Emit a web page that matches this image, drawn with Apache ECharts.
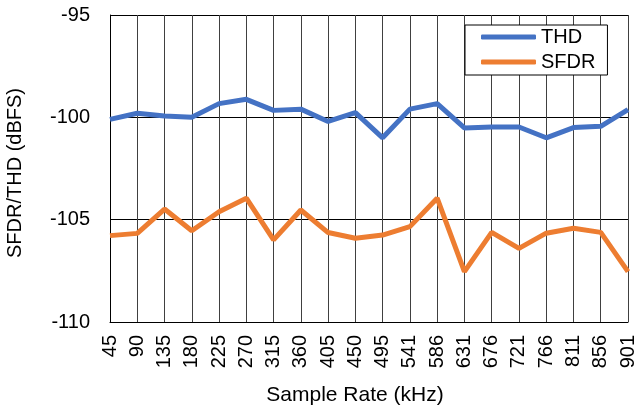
<!DOCTYPE html>
<html>
<head>
<meta charset="utf-8">
<script src="https://cdn.jsdelivr.net/npm/echarts@6/dist/echarts.min.js"></script>
<style>
  html, body { margin: 0; padding: 0; background: #fff; }
  #main { width: 638px; height: 411px; }
</style>
</head>
<body>
<div id="main"></div>
<script>
var sampleRates = ["45", "90", "135", "180", "225", "270", "315", "360", "405", "450",
    "495", "541", "586", "631", "676", "721", "766", "811", "856", "901"];
var thd = [-100.1, -99.8, -99.94, -100.0, -99.33, -99.12, -99.66, -99.6, -100.2, -99.77,
    -101.0, -99.6, -99.33, -100.52, -100.47, -100.47, -101.0, -100.5, -100.44, -99.62];
var sfdr = [-105.78, -105.67, -104.48, -105.54, -104.61, -103.95, -105.99, -104.53, -105.63, -105.91,
    -105.75, -105.34, -103.95, -107.54, -105.62, -106.4, -105.66, -105.42, -105.62, -107.54];

var myChart = echarts.init(document.getElementById("main"), null, { renderer: "canvas" });
var font = "Liberation Sans, Arial, sans-serif";

var option = {
    backgroundColor: "#fff",
    animation: false,
    textStyle: { fontFamily: font },
    grid: {
        left: 110,
        right: 10,
        top: 15,
        bottom: 89,
        outerBoundsMode: "none",
    },
    legend: {
        data: ["THD", "SFDR"],
        orient: "vertical",
        left: 465,
        top: 25,
        padding: [2, 12, 3, 16],
        itemGap: 5,
        itemWidth: 55,
        itemHeight: 5,
        icon: "roundRect",
        backgroundColor: "#fff",
        borderColor: "#000",
        borderWidth: 1,
        textStyle: { fontSize: 20, color: "#000", fontFamily: font },
    },
    xAxis: {
        type: "category",
        boundaryGap: false,
        data: sampleRates,
        name: "Sample Rate (kHz)",
        nameLocation: "middle",
        nameGap: 63,
        nameTextStyle: { fontSize: 21, color: "#000", verticalAlign: "top", padding: [0, 28, 0, 0] },
        axisLine: { lineStyle: { color: "#000", width: 1 } },
        axisTick: { show: false },
        axisLabel: { rotate: 90, fontSize: 20, color: "#000", margin: 13, interval: 0 },
        splitLine: { show: true, lineStyle: { color: "#404040", width: 1 } },
    },
    yAxis: {
        type: "value",
        min: -110,
        max: -95,
        interval: 5,
        name: "SFDR/THD (dBFS)",
        nameLocation: "middle",
        nameGap: 85,
        nameTextStyle: { fontSize: 20, color: "#000", padding: [0, 9, 0, 0] },
        axisLine: { show: true, lineStyle: { color: "#000", width: 1 } },
        axisTick: { show: false },
        axisLabel: { fontSize: 20, color: "#000", margin: 20 },
        splitLine: { show: true, lineStyle: { color: "#000", width: 1 } },
    },
    series: [
        {
            name: "THD",
            type: "line",
            data: thd,
            symbol: "none",
            lineStyle: { color: "#4472C4", width: 5 },
            itemStyle: { color: "#4472C4" },
        },
        {
            name: "SFDR",
            type: "line",
            data: sfdr,
            symbol: "none",
            lineStyle: { color: "#ED7D31", width: 5 },
            itemStyle: { color: "#ED7D31" },
        },
    ],
};
option && myChart.setOption(option);
</script>
</body>
</html>
